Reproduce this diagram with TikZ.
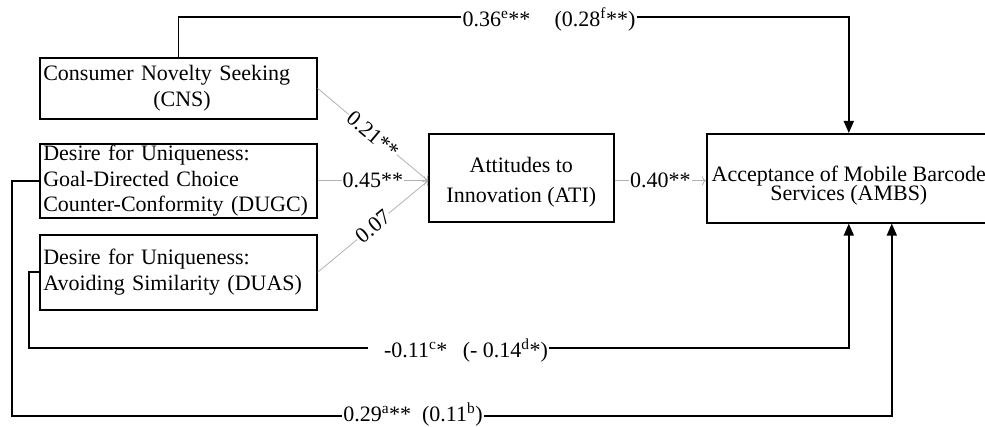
\documentclass[tikz,border=0pt]{standalone}
\usepackage{fontspec}
\setmainfont{Liberation Serif}
\usetikzlibrary{arrows.meta}
\begin{document}
\begin{tikzpicture}[x=1pt,y=-1pt,every node/.style={font=\fontsize{22}{25.5}\selectfont},
  varbox/.style={draw,line width=1.6pt,anchor=north west,inner xsep=3.5pt,inner ysep=0pt},
  leftbox/.style={varbox,minimum width=277pt,text width=270pt,align=left},
  plainpath/.style={line width=1.6pt},
  mainpath/.style={line width=1.6pt,-{Triangle[width=10pt,length=12pt]}},
  weakpath/.style={gray!60,line width=0.8pt,-{To[length=4pt,width=9pt]}},
  coef/.style={fill=white,text=black,inner sep=1pt},
  pathlabel/.style={fill=white,inner xsep=1pt,inner ysep=0pt,text depth=0pt}]
  \useasboundingbox (0,0) rectangle (985,427);
  \node[leftbox,minimum height=61pt] (cns) at (39,57) {Consumer Novelty Seeking\\\hspace*{110pt}(CNS)};
  \node[leftbox,minimum height=74pt] (dugc) at (39,143) {Desire for Uniqueness:\\Goal-Directed Choice\\Counter-Conformity (DUGC)};
  \node[leftbox,minimum height=75pt] (duas) at (39,234) {Desire for Uniqueness:\\Avoiding Similarity (DUAS)};
  \node[varbox,minimum width=185pt,minimum height=88pt,align=center,text height=55pt,font=\fontsize{22}{30}\selectfont] (ati) at (428,133) {Attitudes to\\Innovation (ATI)};
  \node[varbox,minimum width=284pt,minimum height=89pt,align=center,text height=50pt,font={\fontsize{22}{19}\selectfont\lineskiplimit=-20pt\relax}] (ambs) at (706,133) {Acceptance of Mobile Barcode\\Services (AMBS)};
  \coordinate (atiin) at (dugc.east -| ati.west);
  \draw[weakpath] (cns.east) -- node[coef,sloped] {0.21**} (atiin);
  \draw[weakpath] (dugc.east) -- node[coef] {0.45**} (atiin);
  \draw[weakpath] (duas.east) -- node[coef,sloped] {0.07} (atiin);
  \draw[weakpath] (atiin -| ati.east) -- node[coef] {0.40**} (atiin -| ambs.west);
  \node[pathlabel] (l36) at (549,17) {0.36\textsuperscript{e}**\hspace{1.1em}(0.28\textsuperscript{f}**)};
  \draw[plainpath] (cns.north) |- (l36.west);
  \draw[mainpath] (l36.east) -| (ambs.north);
  \node[pathlabel] (l11) at (466,348) {-0.11\textsuperscript{c}*\hspace{0.7em}(- 0.14\textsuperscript{d}*)};
  \draw[plainpath] (duas.west) -- ++(-10,0) |- ([xshift=-15pt]l11.west);
  \draw[mainpath] (l11.east) -| (ambs.south);
  \node[pathlabel] (l29) at (413,412) {0.29\textsuperscript{a}**\ \ (0.11\textsuperscript{b})};
  \draw[plainpath] (dugc.west) -- ++(-27,0) |- ([yshift=-4pt]l29.west);
  \draw[mainpath] ([yshift=-4pt]l29.east) -| ([xshift=43pt]ambs.south);
\end{tikzpicture}
\end{document}
